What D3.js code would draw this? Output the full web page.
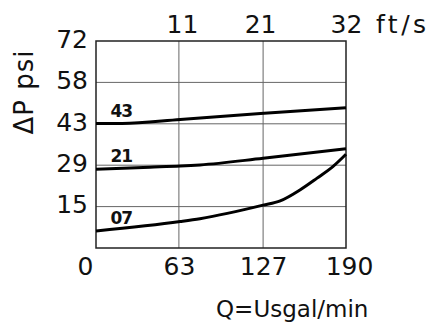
<!DOCTYPE html>
<html>
<head>
<meta charset="utf-8">
<script src="https://cdn.jsdelivr.net/npm/d3@7"></script>
<style>
  body { margin: 0; background: #fff; }
  text { font-family: "DejaVu Sans", sans-serif; fill: #111; }
</style>
</head>
<body>
<div id="chart"></div>
<script>
// flow (US gal/min) vs pressure drop (psi), one curve per size
var q07 = [0, 64, 79, 127, 140, 155, 168, 180, 190];
var p07 = [5.9, 9.2, 10.2, 14.9, 16.4, 20.2, 24.3, 28.3, 32.6];
var q21 = [0, 41, 64, 79, 127, 190];
var p21 = [27.4, 28.1, 28.5, 28.9, 31.2, 34.5];
var q43 = [0, 20, 64, 125, 190];
var p43 = [43.3, 43.3, 44.7, 46.8, 48.8];
var curveNames = ["43", "21", "07"];

var qTicks = [0, 63, 127, 190];
var vTicks = [11, 21, 32];
var pTicks = [14.4, 28.8, 43.2, 57.6, 72];
var pLabels = ["15", "29", "43", "58", "72"];

var margin = { top: 41, left: 96, right: 83, bottom: 76 };
var width = 429 - margin.left - margin.right;
var height = 324 - margin.top - margin.bottom;

var svg = d3.select("#chart").append("svg")
  .attr("width", 429)
  .attr("height", 324)
  .append("g")
  .attr("transform", "translate(" + margin.left + "," + margin.top + ")");

var x = d3.scaleLinear().domain([0, 190]).range([0, width]);
var xv = d3.scaleLinear().domain([0, 32]).range([0, width]);
var y = d3.scaleLinear().domain([0, 72]).range([height, 0]);

// grid
svg.selectAll(".vgrid").data(qTicks.slice(1, 3)).enter().append("line")
  .attr("x1", function(d) { return x(d); }).attr("x2", function(d) { return x(d); })
  .attr("y1", 0).attr("y2", height)
  .attr("stroke", "#666").attr("stroke-width", 1);
svg.selectAll(".hgrid").data(pTicks.slice(0, 4)).enter().append("line")
  .attr("x1", 0).attr("x2", width)
  .attr("y1", function(d) { return y(d); }).attr("y2", function(d) { return y(d); })
  .attr("stroke", "#666").attr("stroke-width", 1);

// frame
svg.append("rect")
  .attr("width", width).attr("height", height)
  .attr("fill", "none").attr("stroke", "#222").attr("stroke-width", 1.5);

// axes (labels only)
var yAxis = d3.axisLeft(y).tickValues(pTicks).tickSize(0).tickPadding(8)
  .tickFormat(function(d, i) { return pLabels[i]; });
var gy = svg.append("g").call(yAxis);
gy.select(".domain").remove();
gy.selectAll("text").attr("font-size", 25).attr("dy", "0.25em").attr("font-family", null);

var xAxis = d3.axisBottom(x).tickValues(qTicks).tickSize(0).tickPadding(27);
var gx = svg.append("g").attr("transform", "translate(0," + height + ")").call(xAxis);
gx.select(".domain").remove();
gx.selectAll("text").attr("font-size", 25).attr("font-family", null).attr("dy", 0)
  .attr("dx", function(d) { return d == 0 ? -11 : (d == 190 ? 3 : 0); });

var xTop = d3.axisTop(xv).tickValues(vTicks).tickSize(0).tickPadding(8);
var gt = svg.append("g").call(xTop);
gt.select(".domain").remove();
gt.selectAll("text").attr("font-size", 25).attr("font-family", null);

svg.append("text")
  .attr("x", width + 30).attr("y", -8)
  .attr("font-size", 25).attr("letter-spacing", 3.5)
  .text("ft/s");

svg.append("text")
  .attr("x", 120).attr("y", height + 69)
  .attr("font-size", 23)
  .text("Q=Usgal/min");

svg.append("text")
  .attr("transform", "translate(" + (-63) + "," + 51 + ") rotate(-90)")
  .attr("text-anchor", "middle")
  .attr("font-size", 26).attr("letter-spacing", 1)
  .text("\u0394P psi");

// curves
var series = [[q43, p43], [q21, p21], [q07, p07]];
var line = d3.line()
  .x(function(d) { return x(d[0]); })
  .y(function(d) { return y(d[1]); })
  .curve(d3.curveMonotoneX);

series.forEach(function(s, i) {
  var pts = s[0].map(function(q, j) { return [q, s[1][j]]; });
  svg.append("path")
    .datum(pts)
    .attr("d", line)
    .attr("fill", "none")
    .attr("stroke", "#000")
    .attr("stroke-width", 3);
  svg.append("text")
    .attr("x", x(11)).attr("y", y(s[1][0]) - 7)
    .attr("font-size", 17).attr("font-weight", "bold").attr("letter-spacing", -1)
    .text(curveNames[i]);
});
</script>
</body>
</html>
